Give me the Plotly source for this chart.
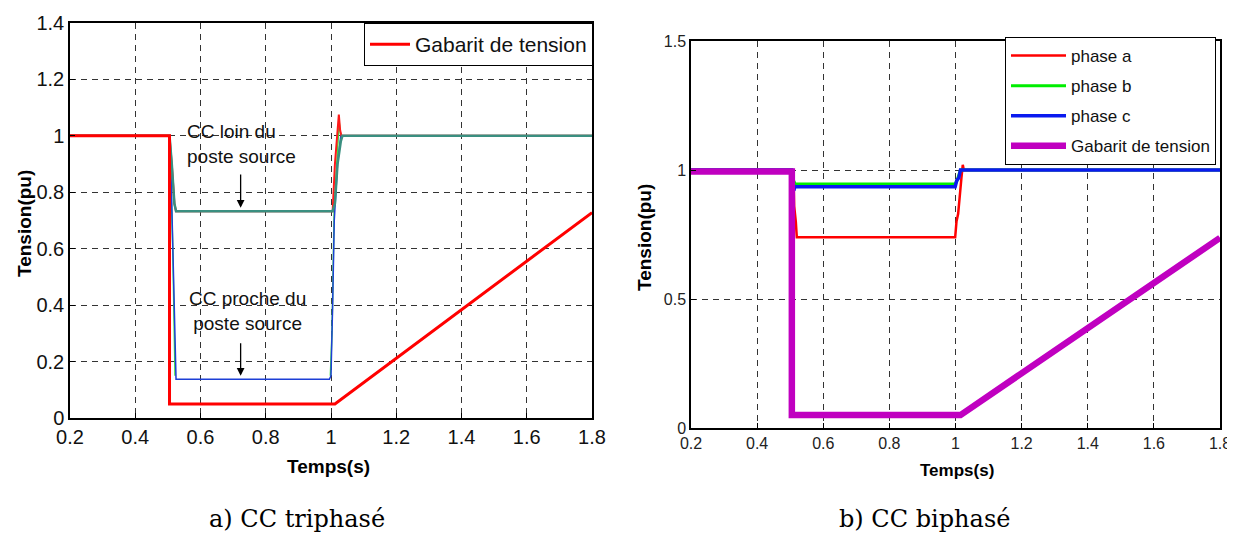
import plotly.graph_objects as go

# ---------------- Data: a) CC triphasé ----------------
a_gab_t = [0.2, 0.505, 0.505, 1.012, 1.8]
a_gab_v = [1.0, 1.0, 0.05, 0.05, 0.728]

a_far_t = [0.2, 0.505, 0.512, 0.52, 0.525, 1.005, 1.012, 1.02, 1.03, 1.035, 1.8]
a_far_v = [1.0, 1.0, 0.9, 0.76, 0.733, 0.733, 0.76, 0.9, 0.98, 1.0, 1.0]

a_near_t = [0.2, 0.505, 0.51, 0.515, 0.52, 0.525, 0.995, 1.0, 1.005, 1.01, 1.02, 1.03, 1.035]
a_near_v = [1.0, 1.0, 0.85, 0.6, 0.3, 0.137, 0.137, 0.15, 0.4, 0.7, 0.9, 1.0, 1.0]

# green phase, visible only during the transitions (gap while hidden under the blue)
a_green_t = [0.503, 0.508, 0.515, 0.519, 0.522, None, 0.998, 1.003, 1.01, 1.02, 1.025, 1.03]
a_green_v = [1.0, 0.9, 0.6, 0.22, 0.15, None, 0.15, 0.3, 0.75, 0.95, 1.05, 1.0]

a_red_t = [0.2, 0.505, 0.512, 0.52, 0.525, 1.005, 1.012, 1.018, 1.024, 1.028, 1.032, 1.8]
a_red_v = [1.0, 1.0, 0.9, 0.76, 0.733, 0.733, 0.9, 0.98, 1.075, 1.02, 1.0, 1.0]

# ---------------- Data: b) CC biphasé ----------------
b_a_t = [0.2, 0.505, 0.51, 0.512, 0.517, 0.52, 0.999, 1.003, 1.008, 1.012, 1.018, 1.022, 1.025, 1.8]
b_a_v = [1.0, 1.0, 0.99, 0.86, 0.8, 0.739, 0.739, 0.8, 0.83, 0.9, 0.97, 1.02, 1.0, 1.0]
b_b_t = [0.2, 0.505, 0.51, 0.515, 0.999, 1.005, 1.015, 1.8]
b_b_v = [1.0, 1.0, 0.96, 0.946, 0.946, 0.96, 1.0, 1.0]
b_c_t = [0.2, 0.505, 0.508, 0.511, 0.514, 0.999, 1.004, 1.01, 1.015, 1.8]
b_c_v = [1.0, 1.0, 0.97, 0.92, 0.935, 0.935, 0.96, 0.97, 1.0, 1.0]
b_gab_t = [0.2, 0.505, 0.505, 1.015, 1.8]
b_gab_v = [0.994, 0.994, 0.05, 0.05, 0.737]

xticks = [0.2, 0.4, 0.6, 0.8, 1.0, 1.2, 1.4, 1.6, 1.8]
xtick_text = ["0.2", "0.4", "0.6", "0.8", "1", "1.2", "1.4", "1.6", "1.8"]
a_yticks = [0, 0.2, 0.4, 0.6, 0.8, 1.0, 1.2, 1.4]
a_ytick_text = ["0", "0.2", "0.4", "0.6", "0.8", "1", "1.2", "1.4"]
b_yticks = [0, 0.5, 1.0, 1.5]
b_ytick_text = ["0", "0.5", "1", "1.5"]

fig = go.Figure()

# left plot traces
fig.add_trace(go.Scatter(x=a_green_t, y=a_green_v, mode="lines", line=dict(color="#3ee03e", width=1.5),
                         showlegend=False, xaxis="x", yaxis="y"))
fig.add_trace(go.Scatter(x=a_near_t, y=a_near_v, mode="lines", line=dict(color="#1d3fd6", width=1.5),
                         showlegend=False, xaxis="x", yaxis="y"))
fig.add_trace(go.Scatter(x=a_red_t, y=a_red_v, mode="lines", line=dict(color="#ff1a1a", width=2),
                         showlegend=False, xaxis="x", yaxis="y"))
fig.add_trace(go.Scatter(x=a_far_t, y=a_far_v, mode="lines", line=dict(color="#3a8f80", width=2.5),
                         showlegend=False, xaxis="x", yaxis="y"))
fig.add_trace(go.Scatter(x=a_gab_t, y=a_gab_v, mode="lines", line=dict(color="#ff0000", width=3),
                         name="Gabarit de tension", legend="legend", xaxis="x", yaxis="y"))

# right plot traces
fig.add_trace(go.Scatter(x=b_a_t, y=b_a_v, mode="lines", line=dict(color="#ff0000", width=2.5),
                         name="phase a", legend="legend2", legendgroup="a", xaxis="x2", yaxis="y2"))
fig.add_trace(go.Scatter(x=b_b_t, y=b_b_v, mode="lines", line=dict(color="#00ee00", width=3),
                         name="phase b", legend="legend2", legendgroup="b", xaxis="x2", yaxis="y2"))
fig.add_trace(go.Scatter(x=b_c_t, y=b_c_v, mode="lines", line=dict(color="#0a1aef", width=3.5),
                         name="phase c", legend="legend2", legendgroup="c", xaxis="x2", yaxis="y2"))
fig.add_trace(go.Scatter(x=b_gab_t, y=b_gab_v, mode="lines", line=dict(color="#c000c0", width=6.5),
                         name="Gabarit de tension", legend="legend2", legendgroup="d", xaxis="x2", yaxis="y2"))

# page has an 8px body margin: the figure starts at (8, 8) in the window
OFF = 8
W, H = 1235 - OFF, 536 - OFF
def px(x):
    return (x - OFF) / W
def py(y):
    return (H - (y - OFF)) / H

grid = dict(showgrid=True, gridcolor="#333333", griddash="6px,5px", gridwidth=1,
            showline=True, linecolor="black", linewidth=1.5, mirror=True,
            ticks="inside", ticklen=5, tickcolor="black", zeroline=False, automargin=False)

tickA = dict(family="Liberation Sans Narrow, Arial Narrow, Liberation Sans, Arial", size=20, color="#111111")
tickB = dict(family="Liberation Sans, Arial", size=16, color="#222222")

fig.update_layout(
    width=W, height=H, autosize=False,
    margin=dict(l=0, r=0, t=0, b=0, pad=0, autoexpand=False),
    paper_bgcolor="white", plot_bgcolor="white",
    xaxis=dict(domain=[px(70), px(592)], range=[0.2, 1.8], tickvals=xticks, ticktext=xtick_text,
               tickfont=tickA, anchor="y", **grid),
    yaxis=dict(domain=[py(418), py(23)], range=[0, 1.4], tickvals=a_yticks, ticktext=a_ytick_text,
               tickfont=tickA, anchor="x", **grid),
    xaxis2=dict(domain=[px(691), px(1220)], range=[0.2, 1.8], tickvals=xticks, ticktext=xtick_text,
                tickfont=tickB, anchor="y2", **grid),
    yaxis2=dict(domain=[py(428), py(41)], range=[0, 1.5], tickvals=b_yticks, ticktext=b_ytick_text,
                tickfont=tickB, anchor="x2", **grid),
    legend=dict(x=px(364), y=py(23), xanchor="left", yanchor="top", bgcolor="white",
                bordercolor="black", borderwidth=1,
                font=dict(family="Liberation Sans Narrow, Arial Narrow, Liberation Sans, Arial", size=21, color="#111111"),
                itemwidth=40),
    legend2=dict(x=px(1005), y=py(37), xanchor="left", yanchor="top", bgcolor="white",
                 bordercolor="black", borderwidth=1, tracegroupgap=5,
                 font=dict(family="Liberation Sans, Arial", size=17, color="#111111"),
                 itemwidth=55),
)

ann_font = dict(family="Liberation Sans Narrow, Arial Narrow, Liberation Sans, Arial", size=19, color="#111111")
C = dict(xanchor="center", yanchor="middle", showarrow=False)
annotations = [
    dict(xref="x", yref="y", x=0.727, y=0.972, text="CC loin du<br>poste source",
         align="left", font=ann_font, **C),
    dict(xref="x", yref="y", x=0.745, y=0.378, text="CC proche du<br>poste source",
         align="center", font=ann_font, **C),
    # arrows
    dict(xref="x", yref="y", axref="x", ayref="y", x=0.723, y=0.745, ax=0.723, ay=0.868, text="",
         showarrow=True, arrowhead=2, arrowsize=1.2, arrowwidth=1.3, arrowcolor="black"),
    dict(xref="x", yref="y", axref="x", ayref="y", x=0.723, y=0.15, ax=0.723, ay=0.27, text="",
         showarrow=True, arrowhead=2, arrowsize=1.2, arrowwidth=1.3, arrowcolor="black"),
    # axis titles
    dict(xref="paper", yref="paper", x=px(25), y=py(224), text="<b>Tension(pu)</b>", textangle=-90,
         font=dict(family="Liberation Sans, Arial", size=19, color="black"), **C),
    dict(xref="paper", yref="paper", x=px(645), y=py(238), text="<b>Tension(pu)</b>", textangle=-90,
         font=dict(family="Liberation Sans, Arial", size=19, color="black"), **C),
    dict(xref="paper", yref="paper", x=px(328), y=py(466), text="<b>Temps(s)</b>",
         font=dict(family="Liberation Sans Narrow, Arial Narrow, Liberation Sans, Arial", size=19, color="black"), **C),
    dict(xref="paper", yref="paper", x=px(957), y=py(470), text="<b>Temps(s)</b>",
         font=dict(family="Liberation Sans, Arial", size=17, color="black"), **C),
    # captions
    dict(xref="paper", yref="paper", x=px(297), y=py(519), text="a) CC triphasé",
         font=dict(family="DejaVu Serif, serif", size=24, color="black"), **C),
    dict(xref="paper", yref="paper", x=px(924), y=py(519), text="b) CC biphasé",
         font=dict(family="DejaVu Serif, serif", size=24, color="black"), **C),
]
fig.update_layout(annotations=annotations)

fig.write_html("out.html")
